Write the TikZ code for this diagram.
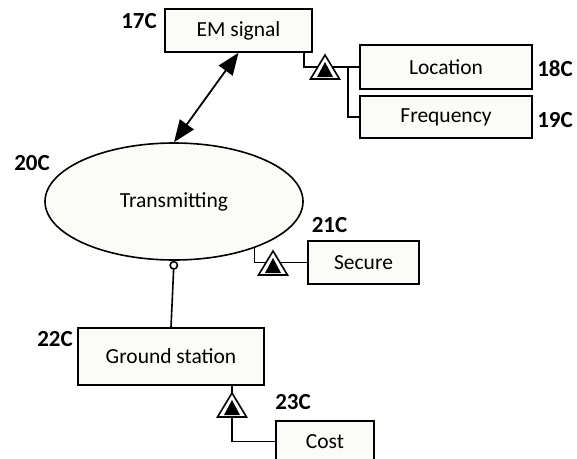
\documentclass[tikz,border=0pt]{standalone}
\usepackage{fontspec}
\setmainfont{Carlito}
\usepackage{tikz}
\usetikzlibrary{arrows.meta,shapes.geometric}
\definecolor{boxfill}{RGB}{251,251,248}
\tikzset{
  featbox/.style={draw, fill=boxfill, line width=1.6pt, inner sep=0pt, font=\fontsize{21.5}{25}\selectfont},
  reflabel/.style={font=\fontsize{23}{26}\selectfont\bfseries, inner sep=0pt},
  link/.style={line width=1.6pt},
  aggr/.pic={
    \draw[fill=white, line width=1.6pt] (0,-12) -- (14.5,12) -- (-14.5,12) -- cycle;
    \fill[black] (0,-5) -- (8,10) -- (-8,10) -- cycle;
  }
}

\begin{document}
\begin{tikzpicture}[x=1pt, y=-1pt, >=stealth]
    \useasboundingbox (0,0) rectangle (577,458);
    % things
    \node[featbox, minimum width=147pt, minimum height=43pt] (em) at (238.5,30.5) {EM signal};
    \node[featbox, minimum width=172pt, minimum height=44pt] (loc) at (446,67) {Location};
    \node[featbox, minimum width=172pt, minimum height=42pt] (freq) at (446,117) {Frequency};
    \node[featbox, ellipse, minimum width=258pt, minimum height=117pt] (tr) at (174,201.5) {Transmitting};
    \node[featbox, minimum width=111pt, minimum height=43pt] (sec) at (363.5,262.5) {Secure};
    \node[featbox, minimum width=186pt, minimum height=57pt] (gs) at (171,356.5) {Ground station};
    \node[featbox, minimum width=98pt, minimum height=41pt] (cost) at (325,441.5) {Cost};
    % labels
    \node[reflabel] (l17) at (139,21) {17C};
    \node[reflabel] (l18) at (555,69) {18C};
    \node[reflabel] (l19) at (555,120) {19C};
    \node[reflabel] (l20) at (32,163) {20C};
    \node[reflabel] (l21) at (329.5,225) {21C};
    \node[reflabel] (l22) at (55,339) {22C};
    \node[reflabel] (l23) at (293,402) {23C};
    % links
    \coordinate (agE) at (325,67);
    \coordinate (jn) at (348,67);
    \coordinate (agS) at (273,263);
    \coordinate (agG) at (232,405);
    \draw[{Triangle[length=22pt,width=17pt]}-{Triangle[length=22pt,width=17pt]}, line width=1.8pt] (em.south) -- (tr.north);
    \draw[{Circle[open,length=9pt,width=9pt]}-, link] (tr.south) -- (gs.north);
    \draw[link] ([xshift=-9pt]em.south east) |- (loc.west);
    \draw[link] (jn) |- (freq.west);
    \draw[link] (tr.-30.5) |- (sec.west);
    \draw[link] (gs.south -| agG) |- (cost.west);
    \pic at (agE) {aggr};
    \pic at (agS) {aggr};
    \pic at (agG) {aggr};
\end{tikzpicture}
\end{document}
